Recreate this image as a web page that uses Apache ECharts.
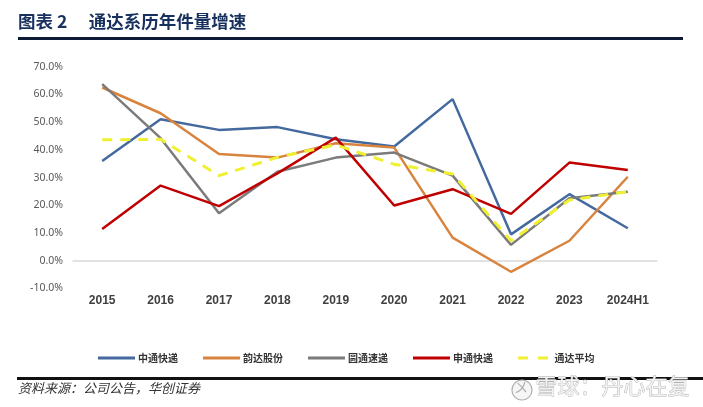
<!DOCTYPE html>
<html><head><meta charset="utf-8">
<script src="https://cdn.jsdelivr.net/npm/echarts@6/dist/echarts.min.js"></script>
<style>html,body{margin:0;padding:0;background:#fff}#c{width:703px;height:407px}</style>
</head><body><div id="c"></div>
<script>
const categories = ['2015','2016','2017','2018','2019','2020','2021','2022','2023','2024H1'];
const ztoValues   = [36.0, 51.0, 47.2, 48.2, 43.8, 41.2, 58.3, 9.5, 24.0, 11.7];
const yundaValues = [62.5, 53.2, 38.5, 37.2, 42.4, 40.8, 8.3, -4.0, 7.2, 30.3];
const ytoValues   = [63.7, 44.2, 17.1, 32.1, 37.2, 39.0, 30.7, 5.7, 22.5, 24.9];
const stoValues   = [11.4, 27.1, 19.7, 31.5, 44.4, 19.9, 25.8, 16.9, 35.4, 32.7];
const avgValues   = [43.6, 43.8, 30.7, 37.3, 41.8, 34.8, 31.3, 7.2, 21.9, 24.9];
const seriesNames = ['中通快递','韵达股份','圆通速递','申通快递','通达平均'];
const yTicks = {min: -10, max: 70, interval: 10};

const chart = echarts.init(document.getElementById('c'), null, {renderer: 'canvas'});
const colors = ['#44699F', '#D8843E', '#7B7B7B', '#C00000', '#F0F032'];
const allData = [ztoValues, yundaValues, ytoValues, stoValues, avgValues];
const series = allData.map((d, i) => ({
  name: seriesNames[i], type: 'line', data: d, symbol: 'none', smooth: false,
  lineStyle: {color: colors[i], width: i === 4 ? 3 : 2.5, type: i === 4 ? [10, 8] : 'solid'},
  itemStyle: {color: colors[i]}, z: 2 + i
}));

chart.setOption({
  animation: false,
  backgroundColor: '#fff',
  graphic: [
    {type: 'text', left: 18, top: 13, style: {text: '图表 2　 通达系历年件量增速', font: 'bold 17.5px "Noto Sans CJK SC"', fill: '#17305E'}},
    {type: 'rect', shape: {x: 18, y: 37, width: 665, height: 3}, style: {fill: '#0E1A33'}},
    {type: 'rect', shape: {x: 17, y: 377, width: 690, height: 3}, style: {fill: '#111'}},
    {type: 'text', left: 18, top: 382, style: {text: '资料来源：公司公告，华创证券', font: 'italic 13px "Noto Sans CJK SC"', fill: '#333'}},
    {type: 'text', left: 535, top: 374, z: 10, style: {text: '雪球：丹心在复', font: '22px "Noto Sans CJK SC"', fill: '#f2f2f2', stroke: '#b0b0b0', lineWidth: 0.8}},
    {type: 'circle', shape: {cx: 522, cy: 390, r: 10}, z: 10, style: {fill: '#f6f6f6', stroke: '#b0b0b0', lineWidth: 1.2}},
    {type: 'text', left: 514, top: 380, z: 11, style: {text: '〤', font: '14px "Noto Sans CJK SC"', fill: '#b0b0b0'}}
  ],
  legend: {
    left: 93, top: 348, itemWidth: 37, itemHeight: 3, itemGap: 25,
    icon: 'path://M0,0 L37,0 L37,3 L0,3 Z',
    textStyle: {fontFamily: '"Noto Sans CJK SC"', fontWeight: 'bold', fontSize: 10, color: '#333', padding: [0, 0, 0, -2]},
    data: seriesNames.map((n, i) => i === 4 ? {name: n, icon: 'path://M0,0 L10,0 L10,3 L0,3 Z M20,0 L30,0 L30,3 L20,3 Z'} : {name: n})
  },
  grid: {left: 73, right: 46, top: 66.7, bottom: 118.6, containLabel: false},
  xAxis: {
    type: 'category', data: categories, boundaryGap: true,
    axisLine: {onZero: true, lineStyle: {color: '#D9D9D9', width: 1.5}},
    axisTick: {show: false},
    axisLabel: {fontFamily: '"Liberation Sans Narrow", "Liberation Sans", Arial', fontWeight: 'bold', fontSize: 12, color: '#404040', margin: 6, interval: 0}
  },
  yAxis: {
    type: 'value', min: yTicks.min, max: yTicks.max, interval: yTicks.interval,
    axisLine: {show: false}, axisTick: {show: false}, splitLine: {show: false},
    axisLabel: {formatter: v => v.toFixed(1) + '%', fontFamily: '"Noto Sans", "DejaVu Sans"', fontSize: 10.5, color: '#595959', margin: 10}
  },
  series: series
});
</script></body></html>
